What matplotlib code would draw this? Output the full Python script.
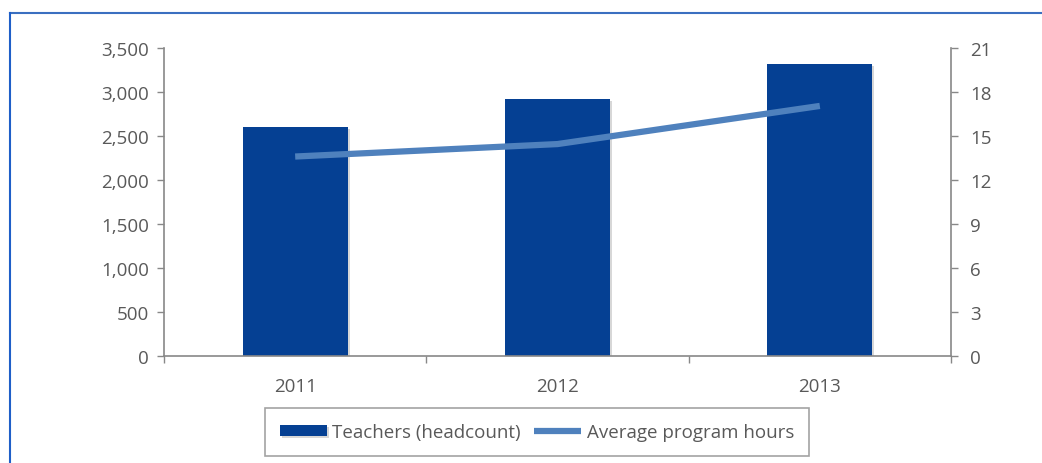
import matplotlib.pyplot as plt
from matplotlib.lines import Line2D
import matplotlib.patheffects as pe

plt.rcParams['font.family'] = ['Open Sans', 'DejaVu Sans']

years = ["2011", "2012", "2013"]
teachers = [2600, 2920, 3320]
avg_hours = [13.6, 14.45, 17.05]

bar_color = "#054093"
line_color = "#4F81BD"
axis_color = "#888888"
text_color = "#595959"

fig = plt.figure(figsize=(10.42, 4.64), dpi=100)
ax = fig.add_axes([164 / 1042, 1 - 357 / 464, (951 - 164) / 1042, (357 - 49) / 464])
ax2 = ax.twinx()

x = list(range(len(years)))
bars = ax.bar(x, teachers, width=0.4, color=bar_color, zorder=2,
              label="Teachers (headcount)")
for b in bars:
    b.set_path_effects([pe.SimplePatchShadow(offset=(1.5, -1.5), shadow_rgbFace="#b0b0b0", alpha=0.5),
                        pe.Normal()])

ax2.plot(x, avg_hours, color=line_color, lw=4.5, solid_capstyle="butt",
         label="Average program hours", zorder=3)

ax.set_xlim(-0.5, 2.5)
ax.set_ylim(0, 3500)
ax.set_yticks(range(0, 3501, 500))
ax.set_yticklabels([f"{v:,}" for v in range(0, 3501, 500)])
ax2.set_ylim(0, 21)
ax2.set_yticks(range(0, 22, 3))

ax.set_xticks(x)
ax.set_xticklabels(years)
ax.set_xticks([-0.5, 0.5, 1.5, 2.5], minor=True)
ax.tick_params(axis="x", which="major", length=0, pad=15)
ax.tick_params(axis="x", which="minor", length=5, color=axis_color, width=1)

for a in (ax, ax2):
    for s in a.spines.values():
        s.set_visible(False)
    a.tick_params(axis="y", length=5, color=axis_color, width=1,
                  labelsize=13.5, labelcolor=text_color, pad=6)
ax2.tick_params(axis="y", pad=9)
ax.tick_params(axis="x", labelsize=13.5, labelcolor=text_color)
ax.spines["left"].set_visible(True)
ax.spines["bottom"].set_visible(True)
ax2.spines["right"].set_visible(True)
for s in (ax.spines["left"], ax.spines["bottom"], ax2.spines["right"]):
    s.set_color(axis_color)
    s.set_linewidth(1.2)

h1, l1 = ax.get_legend_handles_labels()
h2, l2 = ax2.get_legend_handles_labels()
leg = fig.legend(h1 + h2, l1 + l2, loc="center", bbox_to_anchor=(537 / 1042, 1 - 433 / 464),
                 ncol=2, frameon=True, fancybox=False, fontsize=13.5,
                 handlelength=2.5, handleheight=0.5, handletextpad=0.3, columnspacing=0.7,
                 borderpad=0.8, labelcolor=text_color)
leg.get_frame().set_edgecolor("#8c8c8c")
leg.get_frame().set_linewidth(1.2)

# outer frame: top and left edges only
fig.add_artist(Line2D([10 / 1042, 1.0], [1 - 14 / 464, 1 - 14 / 464], color="#3a6fc0", lw=1.5))
fig.add_artist(Line2D([10 / 1042, 10 / 1042], [1 - 14 / 464, 0.0], color="#1f5fc8", lw=1.5))

fig.savefig("out.png", dpi=100)
